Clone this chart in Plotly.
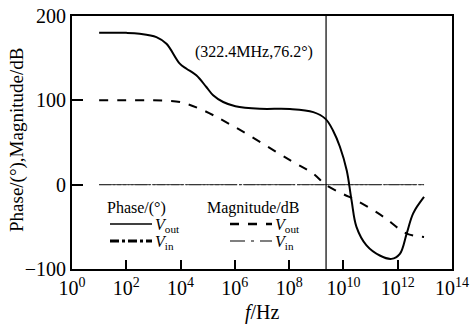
import plotly.graph_objects as go

# ---- data (log10 of frequency in Hz) ----
phase_logf = [1.0, 2.0, 2.49, 3.11, 3.48, 3.97, 4.22, 4.58, 4.95, 5.2, 5.57, 6.02, 6.92, 8.03, 8.89,
              9.34, 9.62, 9.87, 10.12, 10.3, 10.48, 10.85, 11.34, 11.77, 12.08, 12.33, 12.57, 12.97]
phase_vout = [180, 180, 179, 175, 167, 143.5, 137.5, 129.6, 115.8, 106, 98, 93, 90, 89.7, 86,
              78, 64, 45, 17, -18.6, -50, -72, -84, -88, -82, -58, -34, -14.6]

mag_logf = [1.0, 2.0, 3.0, 3.5, 3.98, 4.71, 6.02, 8.03, 8.89, 9.34, 9.98, 10.48, 11.47, 12.33, 12.97]
mag_vout = [100, 100, 100, 99.5, 98, 90, 68, 29, 13, 0, -11, -18.6, -38, -58, -62]

vin_logf = [1.0, 12.97]
phase_vin = [0, 0]
mag_vin = [0, 0]

marker_logf = 9.36
marker_label = "(322.4MHz,76.2°)"

x_tick_exps = [0, 2, 4, 6, 8, 10, 12, 14]
y_ticks = [-100, 0, 100, 200]

legend_groups = ["Phase/(°)", "Magnitude/dB"]
legend_names = ["<i>V</i><sub>out</sub>", "<i>V</i><sub>in</sub>"]

to_f = lambda arr: [10 ** v for v in arr]

FONT = "Liberation Serif"
W, H = 475, 324
ML, MR, MT, MB = 72, 23, 16, 55
PW, PH = W - ML - MR, H - MT - MB
px = lambda x: (x - ML) / PW
py = lambda y: (H - MB - y) / PH

fig = go.Figure()

fig.add_trace(go.Scatter(x=to_f(vin_logf), y=phase_vin, mode="lines",
                         line=dict(color="#333", width=1, dash="22px,2px,3px,2px"), showlegend=False))
fig.add_trace(go.Scatter(x=to_f(vin_logf), y=mag_vin, mode="lines",
                         line=dict(color="#333", width=1, dash="12px,2px,2px,2px"), showlegend=False))
fig.add_trace(go.Scatter(x=to_f(mag_logf), y=mag_vout, mode="lines",
                         line=dict(color="black", width=2, dash="dash", shape="spline"), showlegend=False))
fig.add_trace(go.Scatter(x=to_f(phase_logf), y=phase_vout, mode="lines",
                         line=dict(color="black", width=2, shape="spline"), showlegend=False))
# marker vertical line
fig.add_trace(go.Scatter(x=[10 ** marker_logf, 10 ** marker_logf], y=[-100, 200], mode="lines",
                         line=dict(color="black", width=1.2), showlegend=False))

fig.add_annotation(x=marker_logf - 0.4, y=157, xref="x", yref="y", text=marker_label,
                   showarrow=False, xanchor="right", font=dict(family=FONT, size=16, color="black"))

# ---- manual legend (two column groups) ----
legend_styles = [
    [dict(width=1.5, dash="solid"), dict(width=3, dash="dashdot")],
    [dict(width=2.5, dash="dash"), dict(width=1.2, dash="longdashdot")],
]
col_title_x = [105, 205]
col_line_x = [(110, 152), (230, 272)]
row_y = [224, 241]
for ci, title in enumerate(legend_groups):
    fig.add_annotation(x=px(col_title_x[ci]), y=py(208), xref="paper", yref="paper", text=title,
                       showarrow=False, xanchor="left", yanchor="middle",
                       font=dict(family=FONT, size=16, color="black"))
    for ri, name in enumerate(legend_names):
        x0, x1 = col_line_x[ci]
        fig.add_shape(type="line", xref="paper", yref="paper", x0=px(x0), x1=px(x1),
                      y0=py(row_y[ri]), y1=py(row_y[ri]),
                      line=dict(color="black", **legend_styles[ci][ri]))
        fig.add_annotation(x=px(x1 + 1), y=py(row_y[ri] + 1), xref="paper", yref="paper", text=name,
                           showarrow=False, xanchor="left", yanchor="middle",
                           font=dict(family=FONT, size=16, color="black"))

# axis titles as annotations for exact placement
fig.add_annotation(x=px(262), y=py(313), xref="paper", yref="paper", text="<i>f</i>/Hz",
                   showarrow=False, xanchor="center", yanchor="middle",
                   font=dict(family=FONT, size=20, color="black"))
fig.add_annotation(x=px(17), y=py(140), xref="paper", yref="paper", text="Phase/(°),Magnitude/dB",
                   showarrow=False, xanchor="center", yanchor="middle", textangle=-90,
                   font=dict(family=FONT, size=19, color="black"))

fig.update_layout(
    width=W, height=H,
    margin=dict(l=ML, r=MR, t=MT, b=MB),
    paper_bgcolor="white", plot_bgcolor="white",
    font=dict(family=FONT, color="black", size=20),
    showlegend=False,
)
fig.update_xaxes(type="log", range=[0, 14], tickvals=[10 ** e for e in x_tick_exps],
                 ticktext=[f"10<sup>{e}</sup>" for e in x_tick_exps],
                 ticks="inside", ticklen=9, tickwidth=1.5, tickcolor="black",
                 showline=True, linecolor="black", linewidth=2, mirror=True,
                 showgrid=False, zeroline=False, automargin=False,
                 tickfont=dict(size=20))
fig.update_yaxes(range=[-100, 200], tickvals=y_ticks,
                 ticks="inside", ticklen=11, tickwidth=1.5, tickcolor="black",
                 showline=True, linecolor="black", linewidth=2, mirror=True,
                 showgrid=False, zeroline=False, automargin=False,
                 tickfont=dict(size=20))

fig.write_html("out.html", config={"displayModeBar": False},
               post_script="document.body.style.margin='0';document.body.style.overflow='hidden';")
